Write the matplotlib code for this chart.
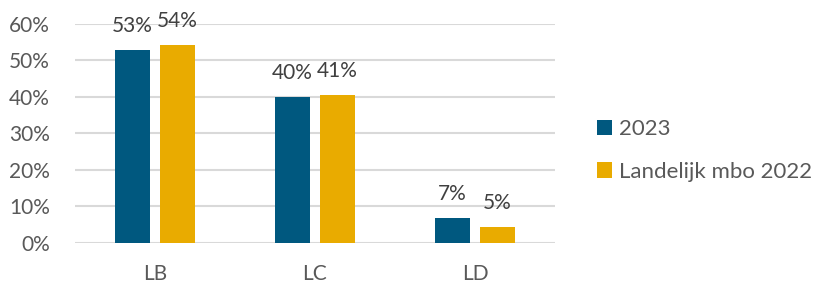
import numpy as np
import matplotlib
matplotlib.use("Agg")
import matplotlib.pyplot as plt
from matplotlib.ticker import PercentFormatter

categories = ["LB", "LC", "LD"]
series_names = ["2023", "Landelijk mbo 2022"]
values_2023 = [53, 40, 6.8]
values_landelijk = [54.2, 40.5, 4.5]
labels_2023 = ["53%", "40%", "7%"]
labels_landelijk = ["54%", "41%", "5%"]

plt.rcParams["font.family"] = ["Lato", "DejaVu Sans"]

blue = "#00587F"
gold = "#E9AB00"
text_col = "#595959"

fig = plt.figure(figsize=(8.15, 2.84), dpi=100)
ax = fig.add_axes([0.092, 0.1444, 0.589, 0.7711])

x = np.arange(len(categories))
w = 0.22
off = 0.14
b1 = ax.bar(x - off, values_2023, w, color=blue, label=series_names[0], zorder=3)
b2 = ax.bar(x + off, values_landelijk, w, color=gold, label=series_names[1], zorder=3)

for bars, labs in ((b1, labels_2023), (b2, labels_landelijk)):
    for bar, lab in zip(bars, labs):
        ax.annotate(lab, (bar.get_x() + bar.get_width() / 2, bar.get_height()),
                    xytext=(0, 24), textcoords="offset pixels",
                    ha="center", va="center", fontsize=15, color="#404040")

ax.set_xlim(-0.5, 2.5)
ax.set_ylim(0, 60)
ax.set_yticks(range(0, 61, 10))
ax.yaxis.set_major_formatter(PercentFormatter(decimals=0))
ax.set_xticks(x)
ax.set_xticklabels(categories)
ax.grid(axis="y", color="#D9D9D9", linewidth=1.5, zorder=0)
ax.set_axisbelow(True)
for s in ax.spines.values():
    s.set_visible(False)
ax.tick_params(axis="both", length=0, labelsize=15, colors=text_col)
ax.tick_params(axis="y", pad=18)
ax.tick_params(axis="x", pad=15)

fig.legend(handles=[b1, b2], labels=series_names, loc="center left",
           bbox_to_anchor=(0.732, 0.47), frameon=False, fontsize=16,
           borderpad=0, borderaxespad=0,
           handlelength=0.7, handleheight=0.7, handletextpad=0.3,
           labelspacing=1.0, labelcolor=text_col)

fig.savefig("out.png", dpi=100)
